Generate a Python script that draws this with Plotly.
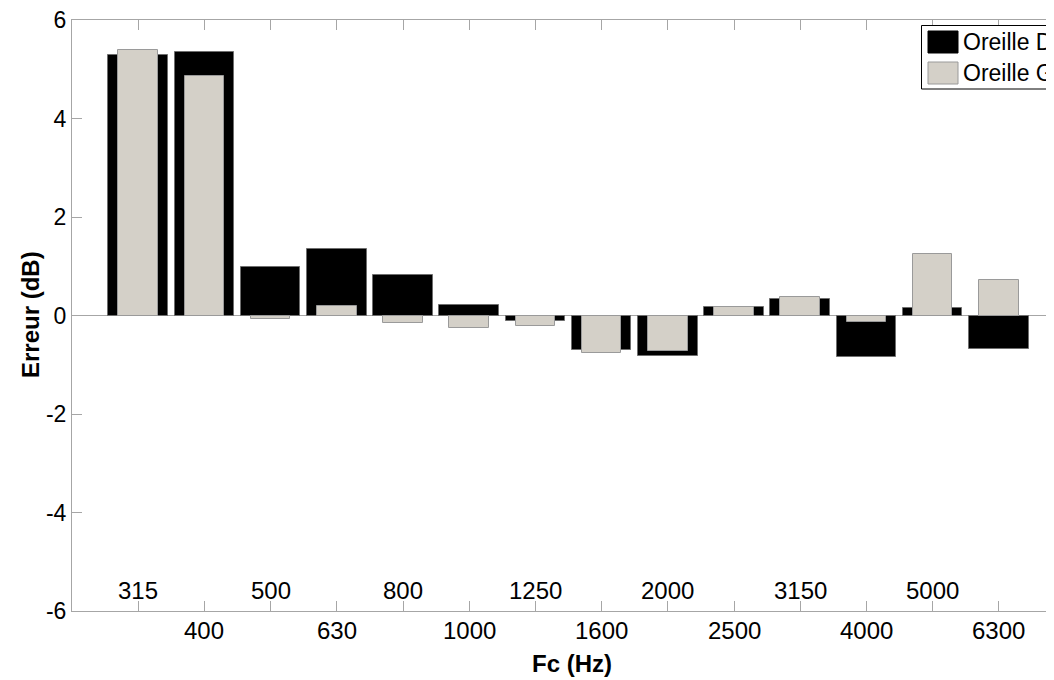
import plotly.graph_objects as go

# third-octave centre frequencies (Hz)
freqs = ["315", "400", "500", "630", "800", "1000", "1250",
         "1600", "2000", "2500", "3150", "4000", "5000", "6300"]

# error per ear (dB)
oreille_d = [5.28, 5.36, 0.99, 1.35, 0.83, 0.22, -0.11,
             -0.71, -0.83, 0.18, 0.34, -0.85, 0.16, -0.68]
oreille_g = [5.40, 4.87, -0.07, 0.20, -0.16, -0.26, -0.22,
             -0.77, -0.72, 0.17, 0.37, -0.13, 1.24, 0.73]

y_ticks = [-6, -4, -2, 0, 2, 4, 6]
legend_names = ["Oreille D", "Oreille G"]

# page has an 8px body margin, so the figure is shrunk by that much
OFF = 8
W, H = 1054 - OFF, 680 - OFF
L, T, B = 72 - OFF, 20 - OFF, 69
PW, PH = W - L, H - T - B
px_per_cat = 66.2

FONT = "Liberation Sans, Arial, sans-serif"
AXCOL = "#a6a6a6"
GRAY = "#d4d0c8"

x = list(range(1, len(freqs) + 1))

fig = go.Figure()
fig.add_trace(go.Bar(x=x, y=oreille_d, width=0.9, name=legend_names[0],
                     marker=dict(color="black", line=dict(color="#6e6e6e", width=1))))
fig.add_trace(go.Bar(x=x, y=oreille_g, width=0.6, name=legend_names[1],
                     marker=dict(color=GRAY, line=dict(color="#9a9a9a", width=1))))


# positions below are given in window pixels
def px_x(p):
    return (p - 72) / PW


def px_y(q):
    return (611 - q) / PH


annotations = []
# staggered frequency labels, odd ones inside the axes, even ones below
for i, f in enumerate(freqs):
    yq = 590 if i % 2 == 0 else 630
    annotations.append(dict(x=x[i], y=px_y(yq), xref="x", yref="paper", text=f,
                            xanchor="center", yanchor="middle", showarrow=False,
                            font=dict(family=FONT, size=24, color="black")))

annotations.append(dict(x=px_x(572), y=px_y(663), xref="paper", yref="paper",
                        text="<b>Fc (Hz)</b>", xanchor="center", yanchor="middle",
                        showarrow=False, font=dict(family=FONT, size=24, color="black")))
annotations.append(dict(x=px_x(30), y=px_y(315), xref="paper", yref="paper",
                        text="<b>Erreur (dB)</b>", textangle=-90, xanchor="center",
                        yanchor="middle", showarrow=False,
                        font=dict(family=FONT, size=24, color="black")))

# hand drawn legend, clipped at the right edge like the original
shapes = [
    dict(type="rect", xref="paper", yref="paper", x0=px_x(921.5), x1=px_x(1120),
         y0=px_y(89), y1=px_y(25.5), fillcolor="white", line=dict(color="black", width=1)),
    dict(type="rect", xref="paper", yref="paper", x0=px_x(928), x1=px_x(958),
         y0=px_y(53), y1=px_y(31), fillcolor="black", line=dict(color="black", width=1)),
    dict(type="rect", xref="paper", yref="paper", x0=px_x(928), x1=px_x(958),
         y0=px_y(84), y1=px_y(62), fillcolor=GRAY, line=dict(color="#9a9a9a", width=1)),
]
for name, yc in zip(legend_names, [42, 73]):
    annotations.append(dict(x=px_x(961), y=px_y(yc), xref="paper", yref="paper",
                            text=name, xanchor="left", yanchor="middle", showarrow=False,
                            font=dict(family=FONT, size=23, color="black")))

fig.update_layout(
    width=W, height=H,
    margin=dict(l=L, r=0, t=T, b=B),
    paper_bgcolor="white", plot_bgcolor="white",
    barmode="overlay", bargap=0,
    showlegend=False,
    annotations=annotations, shapes=shapes,
    font=dict(family=FONT, color="black"),
)
fig.update_xaxes(range=[0, PW / px_per_cat], tickvals=x, showticklabels=False,
                 ticks="inside", ticklen=10, tickcolor=AXCOL, showline=True,
                 linecolor=AXCOL, linewidth=1, mirror="ticks", showgrid=False,
                 zeroline=False)
fig.update_yaxes(range=[-6, 6], tickvals=y_ticks, ticktext=[str(v) for v in y_ticks],
                 ticks="inside", ticklen=10, tickcolor=AXCOL, showline=True,
                 linecolor=AXCOL, linewidth=1, showgrid=False,
                 zeroline=True, zerolinecolor=AXCOL, zerolinewidth=1,
                 ticklabeloverflow="allow",
                 tickfont=dict(family=FONT, size=23, color="black"))

fig.write_html("out.html")
